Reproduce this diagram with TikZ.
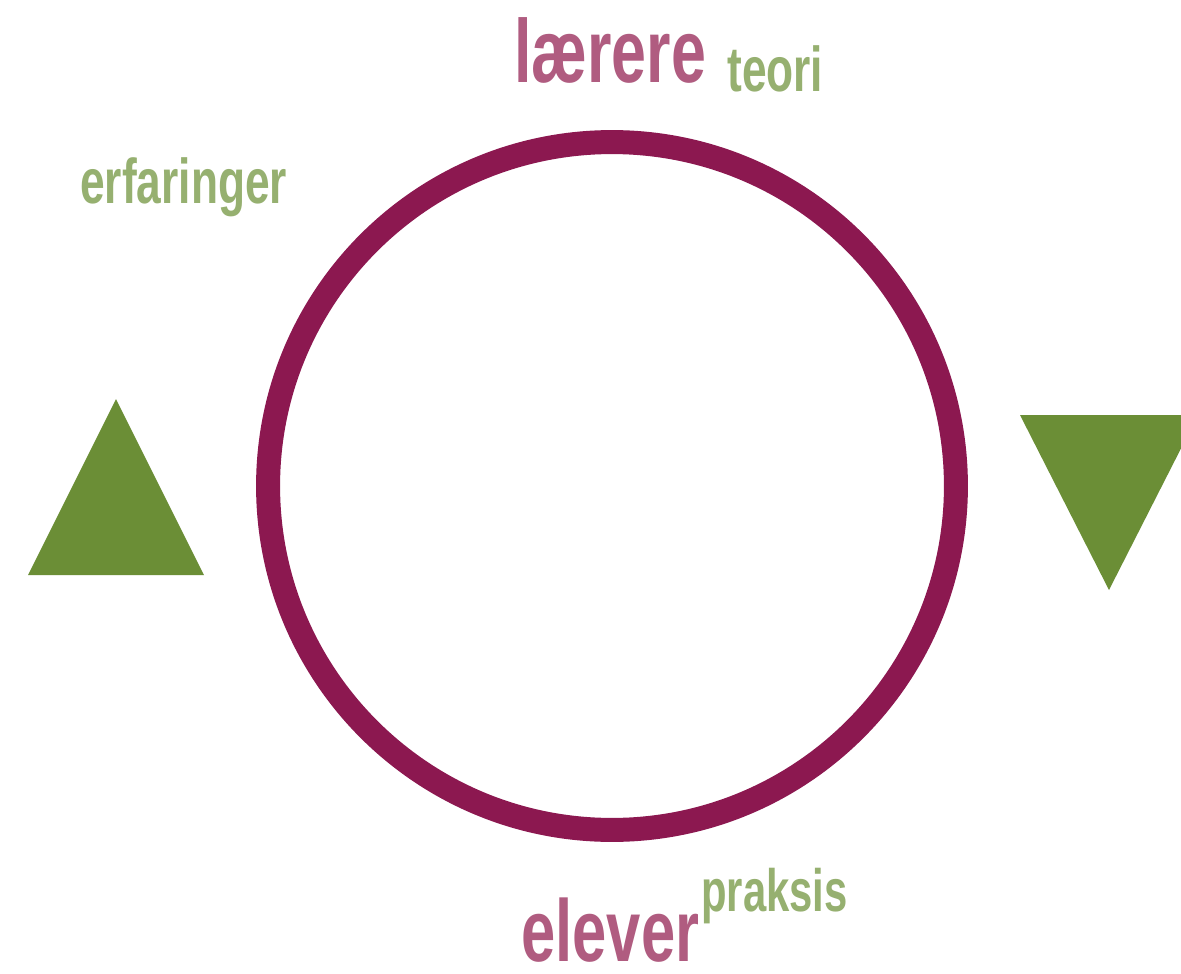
\documentclass[tikz,border=0pt]{standalone}
\usepackage{fontspec}
\newfontfamily\narrowfont[FakeStretch=0.70]{Liberation Sans Bold}
\definecolor{RingColor}{RGB}{140,24,80}
\definecolor{RoleColor}{RGB}{176,92,128}
\definecolor{TermColor}{RGB}{150,176,112}
\definecolor{ArrowGreen}{RGB}{107,142,54}
\usepackage{tikz}
\usetikzlibrary{positioning}

\tikzset{
  role/.style={RoleColor, inner sep=0pt, anchor=base west, font=\narrowfont\fontsize{50}{50}\selectfont},
  term/.style={TermColor, inner sep=0pt, anchor=base west, font=\narrowfont\fontsize{36}{36}\selectfont}
}

\begin{document}
\begin{tikzpicture}[x=0.02cm, y=-0.02cm]
          \clip (0,0) rectangle (1181,974);
          \fill[white] (0,0) rectangle (1181,974);
          \draw[RingColor, line width=0.48cm] (612,486) circle [radius=6.88cm];
          % up and down markers
          \fill[ArrowGreen] (116,399) -- (204,575) -- (28,575) -- cycle;
          \fill[ArrowGreen] (1020,415) -- (1198,415) -- (1109,590) -- cycle;
          % labels
          \node[role, font=\narrowfont\fontsize{51}{51}\selectfont] (laerere) at (514,82) {lærere};
          \node[term] (teori) at (727,91) {teori};
          \node[term] (erfaringer) at (80,203) {erfaringer};
          \node[role] (elever) at (521,961) {elever};
          \node[term, font=\narrowfont\fontsize{34}{34}\selectfont] (praksis) at (701,911) {praksis};
        \end{tikzpicture}
\end{document}
